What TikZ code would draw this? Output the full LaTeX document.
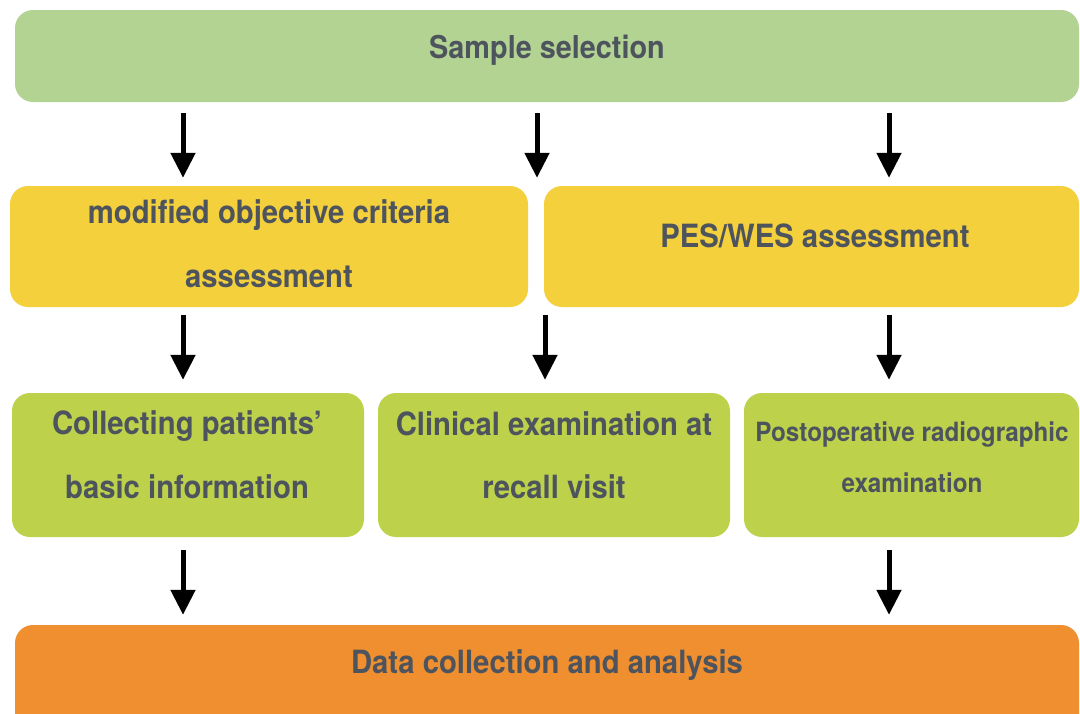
\documentclass[tikz,border=0pt]{standalone}
\usepackage{fontspec}
\usetikzlibrary{arrows.meta}
\newfontfamily\cond[FakeStretch=0.915]{TeX Gyre Heros}
\definecolor{sagegreen}{HTML}{B3D393}
\definecolor{mustard}{HTML}{F3D03C}
\definecolor{lime}{HTML}{BDD14B}
\definecolor{tangerine}{HTML}{F08F2F}
\definecolor{slate}{HTML}{4D545E}
\tikzset{
  box/.style={draw=none, rounded corners=18pt, inner sep=0pt},
  lbl/.style={anchor=base, inner sep=0pt, text=slate, font=\cond\bfseries\fontsize{32}{38}\selectfont},
  smalllbl/.style={lbl, font=\cond\bfseries\fontsize{26.5}{32}\selectfont},
  arr/.style={line width=5pt, -{Triangle[width=24pt,length=25pt]}, black}
}
\begin{document}
\begin{tikzpicture}[x=1pt,y=-1pt]
\clip (0,0) rectangle (1080,713);
\fill[white] (0,0) rectangle (1080,713);

% boxes
\node[box, fill=sagegreen, minimum width=1064pt, minimum height=92pt] (top) at (547,56) {};
\node[box, fill=mustard, minimum width=518pt, minimum height=121pt] (moc) at (269,246.5) {};
\node[box, fill=mustard, minimum width=535pt, minimum height=121pt] (pes) at (811.5,246.5) {};
\node[box, fill=lime, minimum width=352pt, minimum height=144pt] (info) at (188,465) {};
\node[box, fill=lime, minimum width=352pt, minimum height=144pt] (clin) at (554,465) {};
\node[box, fill=lime, minimum width=335pt, minimum height=144pt] (radio) at (911.5,465) {};
\node[box, fill=tangerine, minimum width=1064pt, minimum height=120pt] (data) at (547,685) {};

% labels
\node[lbl, font=\cond\bfseries\fontsize{31.5}{38}\selectfont] (ttop) at (547,58) {Sample selection};
\node[lbl] (tmoc1) at (269,223) {modified objective criteria};
\node[lbl] (tmoc2) at (269,287) {assessment};
\node[lbl] (tpes) at (815,247) {PES/WES assessment};
\node[lbl] (tinfo1) at (187,434) {Collecting patients’};
\node[lbl] (tinfo2) at (187,498) {basic information};
\node[lbl] (tclin1) at (554,435) {Clinical examination at};
\node[lbl] (tclin2) at (554,498) {recall visit};
\node[smalllbl] (tradio1) at (912,441) {Postoperative radiographic};
\node[smalllbl] (tradio2) at (912,492) {examination};
\node[lbl] (tdata) at (547,673) {Data collection and analysis};

% arrow columns
\coordinate (ca) at (183,0);
\coordinate (cb) at (537,0);
\coordinate (cc) at (889,0);
\coordinate (cd) at (545,0);

% arrows
\draw[arr] ([yshift=-11pt]top.south -| ca) -- ([yshift=8pt]moc.north -| ca);
\draw[arr] ([yshift=-11pt]top.south -| cb) -- ([yshift=8pt]moc.north -| cb);
\draw[arr] ([yshift=-11pt]top.south -| cc) -- ([yshift=8pt]pes.north -| cc);
\draw[arr] ([yshift=-8pt]moc.south -| ca) -- ([yshift=13pt]info.north -| ca);
\draw[arr] ([yshift=-8pt]pes.south -| cd) -- ([yshift=13pt]clin.north -| cd);
\draw[arr] ([yshift=-8pt]pes.south -| cc) -- ([yshift=13pt]radio.north -| cc);
\draw[arr] ([yshift=-13pt]info.south -| ca) -- ([yshift=10pt]data.north -| ca);
\draw[arr] ([yshift=-13pt]radio.south -| cc) -- ([yshift=10pt]data.north -| cc);
\end{tikzpicture}
\end{document}
